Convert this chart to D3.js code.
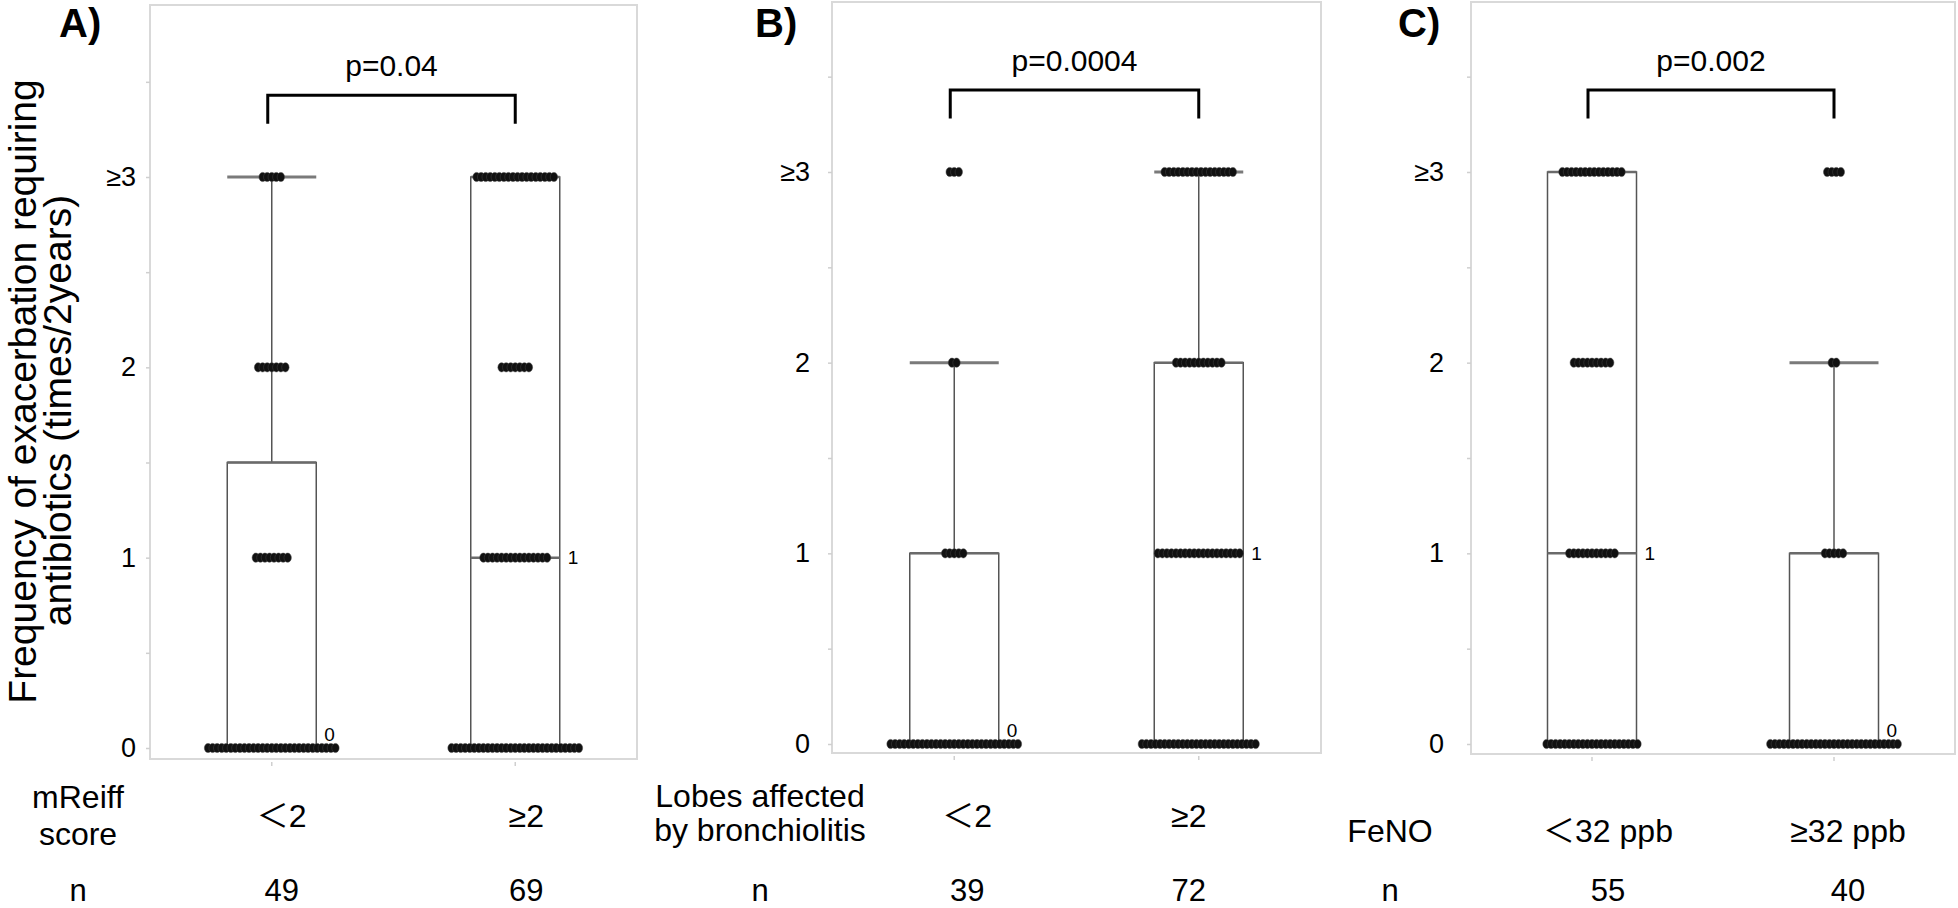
<!DOCTYPE html>
<html><head><meta charset="utf-8">
<script src="https://cdn.jsdelivr.net/npm/d3@7"></script>
<style>
html,body{margin:0;padding:0;background:#fff;}
svg{display:block;}
text{font-family:"Liberation Sans", Arial, "Noto Sans CJK JP", sans-serif;fill:#000;}
</style></head><body>
<svg id="chart" width="1958" height="908"></svg>
<script>
// ---------------- data ----------------
const panelLetters = ["A)", "B)", "C)"];
const pValues = ["p=0.04", "p=0.0004", "p=0.002"];
const rowTitles = [["mReiff", "score"], ["Lobes affected", "by bronchiolitis"], ["FeNO"]];
const groupLabels = [["＜2", "≥2"], ["＜2", "≥2"], ["＜32 ppb", "≥32 ppb"]];
const groupN = [[49, 69], [39, 72], [55, 40]];
const yTickValues = [0, 0.5, 1, 1.5, 2, 2.5, 3, 3.5];
const yTickLabels = ["0", "1", "2", "≥3"];
const yTitle = ["Frequency of exacerbation requiring", "antibiotics (times/2years)"];
// number of patients at 0, 1, 2, ≥3 exacerbations for each group
const countsA = [[29, 8, 7, 5], [29, 15, 7, 18]];
const countsB = [[29, 5, 2, 3], [26, 19, 11, 16]];
const countsC = [[21, 11, 9, 14], [29, 5, 2, 4]];
// box statistics: [Q1, median, Q3, upper whisker]
const boxA = [[0, 0, 1.5, 3], [0, 1, 3, 3]];
const boxB = [[0, 0, 1, 2], [0, 1, 2, 3]];
const boxC = [[0, 1, 3, 3], [0, 0, 1, 2]];
const medianLabels = [["0", "1"], ["0", "1"], ["1", "0"]];

const counts = [countsA, countsB, countsC];
const boxes = [boxA, boxB, boxC];

// ---------------- layout (pixels) ----------------
const layout = [
  {left: 150, right: 637, top: 5, bottom: 759, y0: 748, y3: 177, tickPad: 10, letterX: 59, rowX: 78, catY: 827, titleY: [808, 845], shift: [10, 11]},
  {left: 832, right: 1321, top: 2, bottom: 753, y0: 744, y3: 172, tickPad: 18, letterX: 755, rowX: 760, catY: 827, titleY: [807, 841], shift: [13, -10]},
  {left: 1471, right: 1955, top: 2, bottom: 754, y0: 744, y3: 172, tickPad: 23, letterX: 1398, rowX: 1390, catY: 842, titleY: [842], shift: [16, 14]}
];
const boxHalf = 44.5, dotStep = 4.55, nRowY = 901;

const svg = d3.select("#chart");

// y-axis title
yTitle.forEach((t, i) => {
  svg.append("text")
    .attr("transform", `translate(${i === 0 ? 36 : 71},${i === 0 ? 391.5 : 410.5}) rotate(-90)`)
    .attr("text-anchor", "middle")
    .style("font-size", "39px")
    .text(t);
});

layout.forEach((L, p) => {
  const g = svg.append("g");
  const x = d3.scalePoint().domain([0, 1]).range([L.left, L.right]).padding(0.5);
  const y = d3.scaleLinear().domain([0, 3]).range([L.y0, L.y3]);

  // frame
  g.append("rect")
    .attr("x", L.left).attr("y", L.top)
    .attr("width", L.right - L.left).attr("height", L.bottom - L.top)
    .attr("fill", "none").attr("stroke", "#d9d9d9").attr("stroke-width", 2);

  // y axis
  const ax = g.append("g").attr("transform", `translate(${L.left},0)`)
    .call(d3.axisLeft(y).tickValues(yTickValues).tickSize(4).tickPadding(L.tickPad)
      .tickFormat(v => Number.isInteger(v) ? yTickLabels[v] : ""));
  ax.select(".domain").remove();
  ax.selectAll(".tick line").attr("stroke", "#cfcfcf").attr("stroke-width", 1.5);
  ax.selectAll(".tick text").style("font-size", "27px").style("font-family", "'Liberation Sans', Arial, sans-serif").attr("fill", "#111");

  // small category ticks below frame
  [0, 1].forEach(k => {
    g.append("line").attr("x1", x(k)).attr("x2", x(k))
      .attr("y1", L.bottom + 3).attr("y2", L.bottom + 7)
      .attr("stroke", "#cfcfcf").attr("stroke-width", 1.5);
  });

  // boxes
  boxes[p].forEach((b, k) => {
    const c = x(k);
    const [q1, med, q3, whi] = b;
    if (whi > q3) {
      g.append("line").attr("x1", c).attr("x2", c).attr("y1", y(q3)).attr("y2", y(whi))
        .attr("stroke", "#555").attr("stroke-width", 1.5);
      g.append("line").attr("x1", c - boxHalf).attr("x2", c + boxHalf).attr("y1", y(whi)).attr("y2", y(whi))
        .attr("stroke", "#7a7a7a").attr("stroke-width", 3);
    }
    g.append("rect").attr("x", c - boxHalf).attr("y", y(q3))
      .attr("width", boxHalf * 2).attr("height", y(q1) - y(q3))
      .attr("fill", "none").attr("stroke", "#555").attr("stroke-width", 1.5);
    g.append("line").attr("x1", c - boxHalf).attr("x2", c + boxHalf).attr("y1", y(q3)).attr("y2", y(q3))
      .attr("stroke", "#6a6a6a").attr("stroke-width", 2.5);
    g.append("line").attr("x1", c - boxHalf).attr("x2", c + boxHalf).attr("y1", y(med)).attr("y2", y(med))
      .attr("stroke", "#6a6a6a").attr("stroke-width", 2.5);

    // dots
    const dots = [];
    counts[p][k].forEach((n, lvl) => {
      for (let i = 0; i < n; i++) dots.push({cx: c + (i - (n - 1) / 2) * dotStep, v: lvl});
    });
    g.selectAll(null).data(dots).enter().append("ellipse")
      .attr("cx", d => d.cx).attr("cy", d => y(d.v))
      .attr("rx", 3.7).attr("ry", 4.6)
      .attr("fill", "#111").attr("stroke", "#444").attr("stroke-width", 0.5);

    // median label
    const ml = medianLabels[p][k];
    g.append("text")
      .attr("x", c + boxHalf + 8)
      .attr("y", med === 0 ? y(med) - 7 : y(med))
      .attr("dy", med === 0 ? 0 : "0.35em")
      .style("font-size", "19px")
      .text(ml);

    // category label & n
    g.append("text").attr("x", c + L.shift[k]).attr("y", L.catY)
      .attr("text-anchor", "middle").style("font-size", "32px").text(groupLabels[p][k]);
    g.append("text").attr("x", c + L.shift[k]).attr("y", nRowY)
      .attr("text-anchor", "middle").style("font-size", "31px").text(groupN[p][k]);
  });

  // significance bracket
  const bx1 = x(0) - 4, bx2 = x(1);
  g.append("path")
    .attr("d", `M${bx1},${y(3.28)}V${y(3.43)}H${bx2}V${y(3.28)}`)
    .attr("fill", "none").attr("stroke", "#000").attr("stroke-width", 3);
  g.append("text").attr("x", (bx1 + bx2) / 2).attr("y", y(3.53))
    .attr("text-anchor", "middle").style("font-size", "30px").text(pValues[p]);

  // panel letter
  g.append("text").attr("x", L.letterX).attr("y", 37)
    .style("font-weight", "bold")
    .style("font-size", "40px").text(panelLetters[p]);

  // row titles
  rowTitles[p].forEach((t, i) => {
    g.append("text").attr("x", L.rowX).attr("y", L.titleY[i])
      .attr("text-anchor", "middle").style("font-size", "32px").text(t);
  });
  g.append("text").attr("x", L.rowX).attr("y", nRowY)
    .attr("text-anchor", "middle").style("font-size", "31px").text("n");
});
</script>
</body></html>
